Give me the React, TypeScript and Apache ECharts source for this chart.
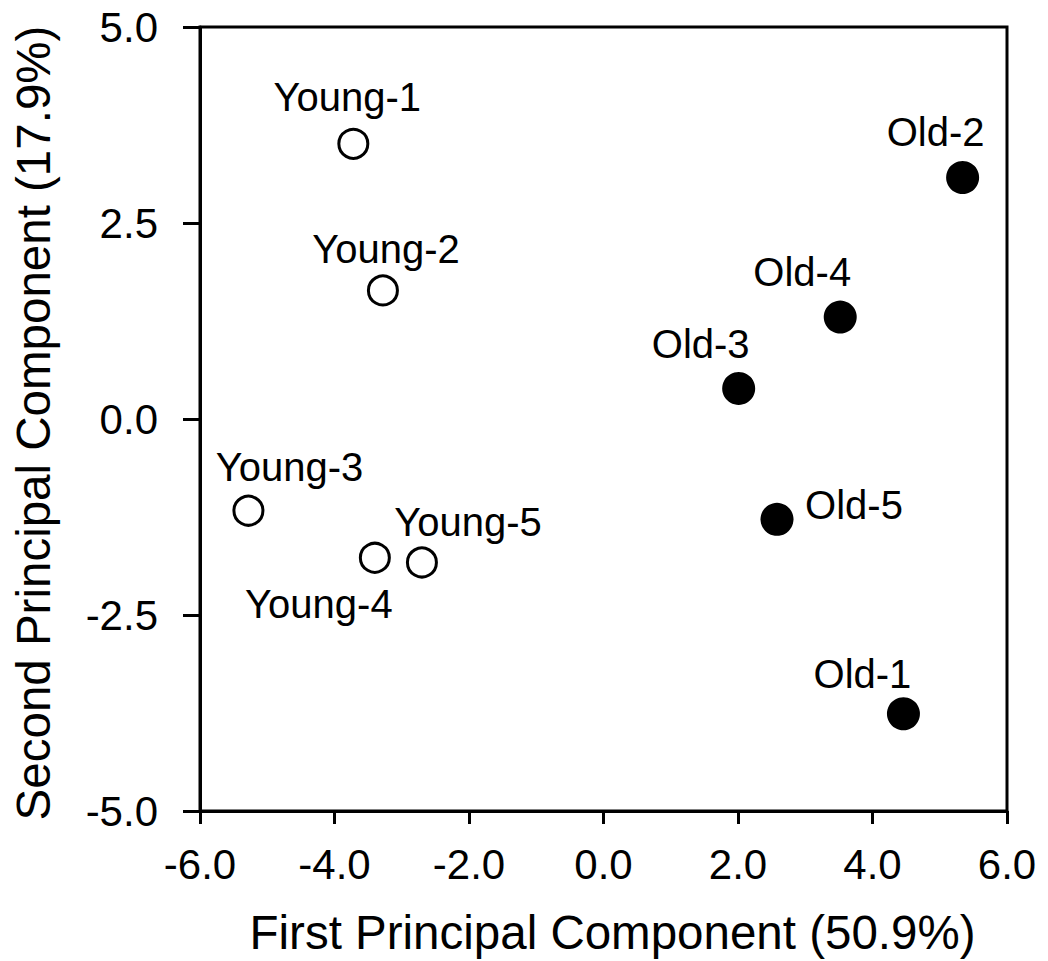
import React, { useEffect, useRef } from "react";
import * as echarts from "echarts";

const youngNames = ["Young-1", "Young-2", "Young-3", "Young-4", "Young-5"];
const youngX = [-3.72, -3.28, -5.28, -3.4, -2.7];
const youngY = [3.51, 1.64, -1.17, -1.77, -1.83];

const oldNames = ["Old-1", "Old-2", "Old-3", "Old-4", "Old-5"];
const oldX = [4.46, 5.34, 2.01, 3.52, 2.58];
const oldY = [-3.76, 3.08, 0.39, 1.3, -1.28];

const xTitle = "First Principal Component (50.9%)";
const yTitle = "Second Principal Component (17.9%)";

// label placement (pixel offsets from the marker centre)
const labelOffsets: Record<string, [number, number]> = {
  "Young-1": [-6, -47],
  "Young-2": [3, -41],
  "Young-3": [41, -44],
  "Young-4": [-56, 46],
  "Young-5": [46, -40],
  "Old-1": [-41, -40],
  "Old-2": [-27, -46],
  "Old-3": [-38, -44],
  "Old-4": [-38, -45],
  "Old-5": [77, -14],
};

const FONT = "'Liberation Sans', Arial, Helvetica, sans-serif";

function buildData(names: string[], xs: number[], ys: number[]) {
  return names.map((n, i) => ({
    name: n,
    value: [xs[i], ys[i]],
    label: { offset: labelOffsets[n] },
  }));
}

export default function App() {
  const ref = useRef<HTMLDivElement>(null);
  useEffect(() => {
    if (!ref.current) return;
    const chart = echarts.init(ref.current, undefined, { renderer: "svg" });
    const labelStyle = {
      show: true,
      position: "inside",
      formatter: "{b}",
      color: "#000",
      fontSize: 40,
      fontFamily: FONT,
    };
    chart.setOption({
      animation: false,
      backgroundColor: "#fff",
      grid: {
        left: 200,
        top: 27,
        right: 41,
        bottom: 149,
        show: true,
        borderColor: "#000",
        borderWidth: 3,
        backgroundColor: "transparent",
      },
      xAxis: {
        type: "value",
        min: -6,
        max: 6,
        interval: 2,
        name: xTitle,
        nameLocation: "middle",
        nameGap: 97,
        nameTextStyle: { fontSize: 47.5, color: "#000", fontFamily: FONT, padding: [0, 0, 0, 18] },
        axisLine: { show: true, onZero: false, lineStyle: { color: "#000", width: 3 } },
        axisTick: { show: true, length: 13, lineStyle: { color: "#000", width: 3 } },
        axisLabel: {
          fontSize: 42,
          color: "#000",
          fontFamily: FONT,
          margin: 32,
          formatter: (v: number) => v.toFixed(1),
        },
        splitLine: { show: false },
      },
      yAxis: {
        type: "value",
        min: -5,
        max: 5,
        interval: 2.5,
        name: yTitle,
        nameLocation: "middle",
        nameGap: 143,
        nameTextStyle: { fontSize: 47.5, color: "#000", fontFamily: FONT, padding: [0, 8, 0, 0] },
        axisLine: { show: true, onZero: false, lineStyle: { color: "#000", width: 3 } },
        axisTick: { show: true, length: 17, lineStyle: { color: "#000", width: 3 } },
        axisLabel: {
          fontSize: 42,
          color: "#000",
          fontFamily: FONT,
          margin: 42,
          formatter: (v: number) => v.toFixed(1),
        },
        splitLine: { show: false },
      },
      series: [
        {
          name: "Young",
          type: "scatter",
          symbol: "circle",
          symbolSize: 29,
          itemStyle: { color: "#fff", borderColor: "#000", borderWidth: 3, opacity: 1 },
          label: labelStyle,
          data: buildData(youngNames, youngX, youngY),
        },
        {
          name: "Old",
          type: "scatter",
          symbol: "circle",
          symbolSize: 33,
          itemStyle: { color: "#000", opacity: 1 },
          label: labelStyle,
          data: buildData(oldNames, oldX, oldY),
        },
      ],
    });
    return () => chart.dispose();
  }, []);
  return (
    <div
      ref={ref}
      style={{ position: "absolute", left: 0, top: 0, width: 1048, height: 961, background: "#fff" }}
    />
  );
}
